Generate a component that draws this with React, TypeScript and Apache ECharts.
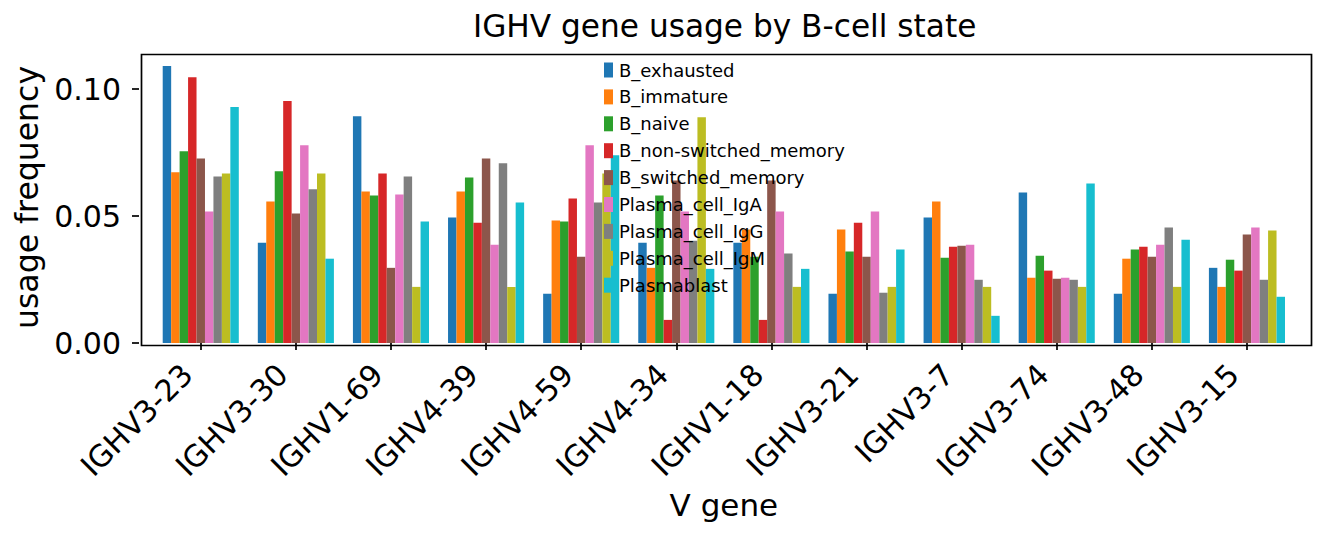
import React, { useEffect, useRef } from "react";
import * as echarts from "echarts";

const categories = ["IGHV3-23", "IGHV3-30", "IGHV1-69", "IGHV4-39", "IGHV4-59", "IGHV4-34", "IGHV1-18", "IGHV3-21", "IGHV3-7", "IGHV3-74", "IGHV3-48", "IGHV3-15"];

const seriesNames = ["B_exhausted", "B_immature", "B_naive", "B_non-switched_memory", "B_switched_memory", "Plasma_cell_IgA", "Plasma_cell_IgG", "Plasma_cell_IgM", "Plasmablast"];

const bExhausted = [0.1091, 0.0395, 0.0893, 0.0494, 0.0194, 0.0395, 0.0395, 0.0194, 0.0494, 0.0593, 0.0194, 0.0296];
const bImmature = [0.0672, 0.0557, 0.0597, 0.0597, 0.0482, 0.0296, 0.0447, 0.0447, 0.0557, 0.0257, 0.0332, 0.0221];
const bNaive = [0.0755, 0.0676, 0.0581, 0.0652, 0.0478, 0.0581, 0.034, 0.036, 0.0336, 0.0344, 0.0368, 0.0328];
const bNonSwitched = [0.1047, 0.0953, 0.0668, 0.0474, 0.0569, 0.0091, 0.0091, 0.0474, 0.0379, 0.0285, 0.0379, 0.0285];
const bSwitched = [0.0727, 0.051, 0.0296, 0.0727, 0.034, 0.064, 0.064, 0.034, 0.0383, 0.0253, 0.034, 0.0427];
const plasmaIgA = [0.0518, 0.0779, 0.0585, 0.0387, 0.0779, 0.0518, 0.0518, 0.0518, 0.0387, 0.0257, 0.0387, 0.0455];
const plasmaIgG = [0.0656, 0.0605, 0.0656, 0.0708, 0.0553, 0.0403, 0.0352, 0.0198, 0.0249, 0.0249, 0.0455, 0.0249];
const plasmaIgM = [0.0668, 0.0668, 0.0221, 0.0221, 0.0668, 0.0889, 0.0221, 0.0221, 0.0221, 0.0221, 0.0221, 0.0443];
const plasmablast = [0.0929, 0.0332, 0.0478, 0.0553, 0.0739, 0.0292, 0.0292, 0.0368, 0.0107, 0.0628, 0.0407, 0.0182];

const seriesValues = [bExhausted, bImmature, bNaive, bNonSwitched, bSwitched, plasmaIgA, plasmaIgG, plasmaIgM, plasmablast];
const colors = ["#1f77b4", "#ff7f0e", "#2ca02c", "#d62728", "#8c564b", "#e377c2", "#7f7f7f", "#bcbd22", "#17becf"];
const yTicks = [0, 0.05, 0.1];

const FONT = "DejaVu Sans";

export default function App() {
  const ref = useRef<HTMLDivElement>(null);
  useEffect(() => {
    if (!ref.current) return;
    const chart = echarts.init(ref.current, null, { renderer: "svg" });
    chart.setOption({
      animation: false,
      color: colors,
      textStyle: { fontFamily: FONT, color: "#000" },
      title: {
        text: "IGHV gene usage by B-cell state",
        left: 473,
        top: 10,
        padding: 0,
        textStyle: { fontFamily: FONT, fontSize: 31.2, fontWeight: "normal", color: "#000" },
      },
      legend: {
        orient: "vertical",
        left: 604,
        top: 61,
        padding: 0,
        itemWidth: 9,
        itemHeight: 15,
        itemGap: 8.9,
        icon: "rect",
        data: seriesNames,
        textStyle: { fontFamily: FONT, fontSize: 18, color: "#000", padding: [0, 0, 0, 1] },
      },
      grid: { left: 153.2, right: 29.5, top: 52, bottom: 195, containLabel: false },
      xAxis: {
        type: "category",
        data: categories,
        name: "V gene",
        nameLocation: "middle",
        nameGap: 146,
        nameTextStyle: { fontFamily: FONT, fontSize: 31, color: "#000" },
        axisLine: { show: false },
        axisTick: { show: true, alignWithLabel: true, length: 7, lineStyle: { color: "#000", width: 1.7 } },
        axisLabel: {
          rotate: 45,
          interval: 0,
          margin: 13,
          padding: [0, 19, 0, 0],
          fontFamily: FONT,
          fontSize: 30,
          color: "#000",
        },
        splitLine: { show: false },
      },
      yAxis: {
        type: "value",
        min: 0,
        max: 0.1146,
        interval: 0.05,
        offset: 14.2,
        name: "usage frequency",
        nameLocation: "middle",
        nameGap: 92,
        nameTextStyle: { fontFamily: FONT, fontSize: 31.5, color: "#000" },
        axisLine: { show: false },
        axisTick: { show: true, length: 7, customValues: yTicks, lineStyle: { color: "#000", width: 1.7 } },
        axisLabel: {
          margin: 18,
          fontFamily: FONT,
          fontSize: 30,
          color: "#000",
          customValues: yTicks,
          formatter: (v: number) => (yTicks.some((t) => Math.abs(t - v) < 1e-9) ? v.toFixed(2) : ""),
        },
        splitLine: { show: false },
      },
      graphic: [
        {
          type: "rect",
          left: 139,
          top: 52,
          shape: { width: 1170, height: 291 },
          style: { fill: "none", stroke: "#000", lineWidth: 1.7 },
          z: 10,
          silent: true,
        },
      ],
      series: seriesNames.map((name, i) => ({
        name,
        type: "bar",
        data: seriesValues[i],
        barGap: "0%",
        barCategoryGap: "20%",
        itemStyle: { color: colors[i] },
      })),
    });
    return () => chart.dispose();
  }, []);
  return <div ref={ref} style={{ position: "fixed", left: 0, top: 0, width: 1324, height: 538, background: "#fff" }} />;
}
